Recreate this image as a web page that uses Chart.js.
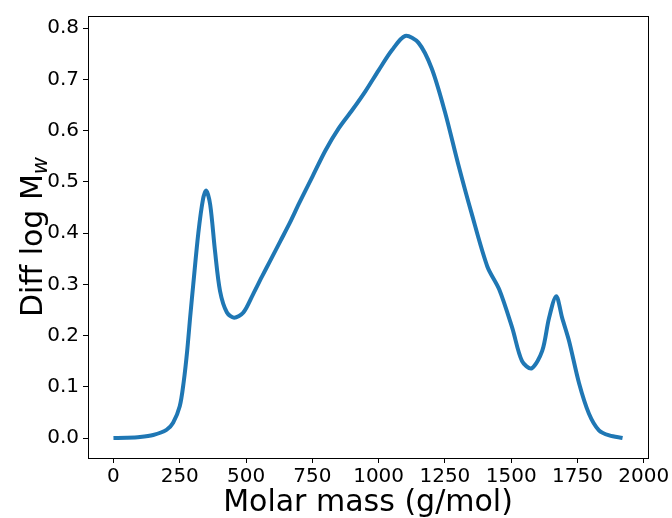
<!DOCTYPE html>
<html>
<head>
<meta charset="utf-8">
<script src="https://cdn.jsdelivr.net/npm/chart.js@4/dist/chart.umd.min.js"></script>
<style>
  html, body { margin: 0; padding: 0; background: #fff; }
  #wrap { width: 672px; height: 518px; }
</style>
</head>
<body>
<div id="wrap"><canvas id="mwChart" width="672" height="518"></canvas></div>
<script>
// molar mass (g/mol) and the matching Diff log Mw
const molarMass = [0, 50, 100, 150, 200, 225, 250, 265, 278, 290, 301, 320, 338, 350, 365, 383, 402, 428, 455,
  490, 526, 560, 590, 630, 665, 700, 750, 800, 850, 900, 950, 1000, 1050, 1100, 1150, 1200, 1250, 1300,
  1350, 1410, 1455, 1504, 1541, 1577, 1617, 1643, 1670, 1692, 1718, 1756, 1793, 1831, 1870, 1920];
const diffLogMw = [0.0, 0.0005, 0.002, 0.006, 0.016, 0.03, 0.062, 0.11, 0.17, 0.24, 0.30, 0.40, 0.467, 0.483, 0.455, 0.365, 0.287, 0.245, 0.235,
  0.245, 0.28, 0.315, 0.345, 0.385, 0.42, 0.458, 0.51, 0.562, 0.605, 0.64, 0.677, 0.718, 0.757, 0.785, 0.772, 0.722, 0.637, 0.535,
  0.44, 0.335, 0.29, 0.215, 0.15, 0.136, 0.17, 0.235, 0.277, 0.235, 0.19, 0.107, 0.048, 0.015, 0.005, 0.0];

const xTicks = [0, 250, 500, 750, 1000, 1250, 1500, 1750, 2000];
const yTicks = [0.0, 0.1, 0.2, 0.3, 0.4, 0.5, 0.6, 0.7, 0.8];

const FONT = 'DejaVu Sans';

const points = molarMass.map(function(m, i) {
  return { x: m, y: diffLogMw[i] };
});

// frame on all four sides plus the y label with its subscript
const framePlugin = {
  id: 'frame',
  afterDraw: function(chart) {
    const ctx = chart.ctx;
    const a = chart.chartArea;
    ctx.save();
    ctx.strokeStyle = '#000';
    ctx.lineWidth = 1;
    ctx.strokeRect(Math.round(a.left) + 0.5, Math.round(a.top) + 0.5,
      Math.round(a.right - a.left), Math.round(a.bottom - a.top));

    // y axis label "Diff log M_w"
    const cy = (a.top + a.bottom) / 2;
    ctx.translate(30, cy);
    ctx.rotate(-Math.PI / 2);
    ctx.fillStyle = '#000';
    ctx.textBaseline = 'alphabetic';
    ctx.font = '30px "' + FONT + '"';
    const main = 'Diff log M';
    const mainW = ctx.measureText(main).width;
    ctx.font = 'italic 21px "' + FONT + '"';
    const subW = ctx.measureText('w').width;
    const start = -(mainW + subW) / 2;
    ctx.font = '30px "' + FONT + '"';
    ctx.fillText(main, start, 12);
    ctx.font = 'italic 21px "' + FONT + '"';
    ctx.fillText('w', start + mainW, 17);
    ctx.restore();
  }
};

const ctx = document.getElementById('mwChart').getContext('2d');
const mwChart = new Chart(ctx, {
  type: 'line',
  data: {
    datasets: [{
      data: points,
      borderColor: '#1f77b4',
      borderWidth: 4,
      pointRadius: 0,
      fill: false,
      tension: 0.3
    }]
  },
  options: {
    responsive: false,
    animation: false,
    layout: { padding: { top: 13, right: 24, left: 0, bottom: 0 } },
    plugins: {
      legend: { display: false },
      tooltip: { enabled: false }
    },
    scales: {
      x: {
        type: 'linear',
        min: -96,
        max: 2016,
        afterBuildTicks: function(scale) {
          scale.ticks = xTicks.map(function(v) { return { value: v }; });
        },
        afterFit: function(scale) { scale.height = 60; },
        grid: { drawOnChartArea: false, drawTicks: true, tickLength: 5, color: '#000' },
        border: { display: true, color: '#000' },
        ticks: {
          padding: 2,
          maxRotation: 0,
          color: '#000',
          font: { family: FONT, size: 20 },
          callback: function(v) { return String(v); }
        },
        title: {
          display: true,
          text: 'Molar mass (g/mol)',
          color: '#000',
          font: { family: FONT, size: 30 },
          padding: { top: 0, bottom: -3 }
        }
      },
      y: {
        type: 'linear',
        min: -0.039,
        max: 0.824,
        afterBuildTicks: function(scale) {
          scale.ticks = yTicks.map(function(v) { return { value: v }; });
        },
        afterFit: function(scale) { scale.width = 88; },
        grid: { drawOnChartArea: false, drawTicks: true, tickLength: 5, color: '#000' },
        border: { display: true, color: '#000' },
        ticks: {
          padding: 4,
          color: '#000',
          font: { family: FONT, size: 20 },
          callback: function(v) { return v.toFixed(1); }
        }
      }
    }
  },
  plugins: [framePlugin]
});
</script>
</body>
</html>
